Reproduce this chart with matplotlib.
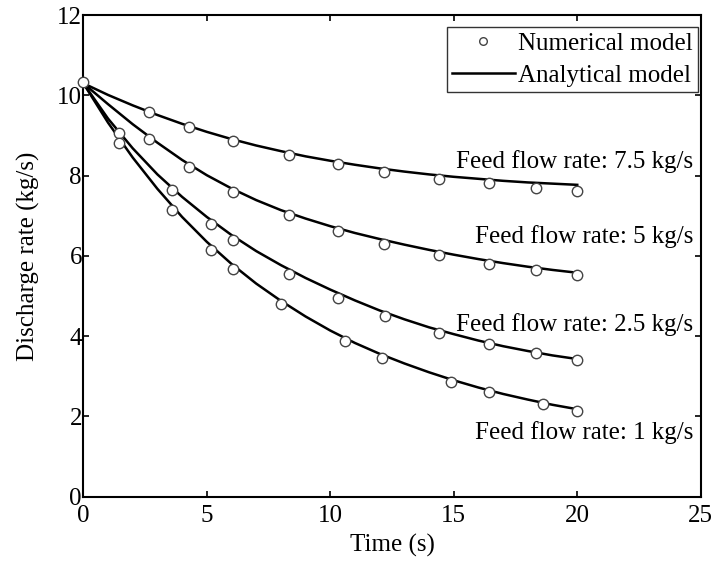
import matplotlib
matplotlib.use("Agg")
import matplotlib.pyplot as plt

plt.rcParams['font.family'] = ['Liberation Serif', 'DejaVu Serif']

# Analytical model curves (read at integer seconds)
t_line = [0, 1, 2, 3, 4, 5, 6, 7, 8, 9, 10, 11, 12, 13, 14, 15, 16, 17, 18, 19, 20]
line_75 = [10.3, 10.01, 9.75, 9.51, 9.29, 9.09, 8.91, 8.75, 8.61, 8.48, 8.37, 8.27, 8.18, 8.10, 8.03, 7.97, 7.92, 7.87, 7.83, 7.80, 7.77]
line_5 = [10.3, 9.78, 9.28, 8.82, 8.39, 8.01, 7.68, 7.39, 7.14, 6.93, 6.74, 6.57, 6.42, 6.28, 6.15, 6.03, 5.92, 5.82, 5.73, 5.65, 5.58]
line_25 = [10.3, 9.42, 8.68, 8.03, 7.47, 6.97, 6.52, 6.12, 5.77, 5.45, 5.16, 4.89, 4.64, 4.42, 4.22, 4.05, 3.89, 3.75, 3.63, 3.52, 3.43]
line_1 = [10.3, 9.32, 8.45, 7.67, 6.97, 6.35, 5.80, 5.31, 4.88, 4.49, 4.14, 3.83, 3.56, 3.32, 3.10, 2.90, 2.72, 2.56, 2.42, 2.29, 2.18]

# Numerical model points
t0 = [0]
q0 = [10.32]
t_pts_75 = [2.67, 4.29, 6.08, 8.31, 10.3, 12.19, 14.4, 16.42, 18.31, 20.0]
pts_75 = [9.58, 9.20, 8.86, 8.51, 8.28, 8.10, 7.92, 7.81, 7.70, 7.62]
t_pts_5 = [2.67, 4.29, 6.08, 8.31, 10.3, 12.19, 14.4, 16.42, 18.31, 20.0]
pts_5 = [8.90, 8.22, 7.60, 7.02, 6.62, 6.30, 6.01, 5.80, 5.65, 5.52]
t_pts_25 = [1.46, 3.58, 5.18, 6.08, 8.31, 10.3, 12.2, 14.4, 16.42, 18.33, 20.0]
pts_25 = [9.05, 7.64, 6.79, 6.40, 5.55, 4.94, 4.50, 4.09, 3.80, 3.57, 3.41]
t_pts_1 = [1.46, 3.58, 5.18, 6.08, 8.0, 10.6, 12.1, 14.9, 16.42, 18.62, 20.0]
pts_1 = [8.82, 7.14, 6.15, 5.67, 4.79, 3.88, 3.46, 2.87, 2.60, 2.30, 2.14]

labels = ["Feed flow rate: 7.5 kg/s", "Feed flow rate: 5 kg/s",
          "Feed flow rate: 2.5 kg/s", "Feed flow rate: 1 kg/s"]
label_y = [8.34, 6.49, 4.28, 1.59]

fig = plt.figure(figsize=(7.14, 5.68), dpi=100)
ax = fig.add_axes([0.1167, 0.1255, 0.8647, 0.848])

mk = dict(marker='o', linestyle='none', markersize=7.5, markerfacecolor='white',
          markeredgecolor='#444444', markeredgewidth=1.0)

for tl, yl in [(t_line, line_75), (t_line, line_5), (t_line, line_25), (t_line, line_1)]:
    ax.plot(tl, yl, color='black', lw=1.8, zorder=2, solid_joinstyle='round')

for tp, yp in [(t_pts_75, pts_75), (t_pts_5, pts_5), (t_pts_25, pts_25), (t_pts_1, pts_1)]:
    ax.plot(tp, yp, zorder=3, **mk)
ax.plot(t0, q0, zorder=3, clip_on=False, **mk)

# legend proxies
h1, = ax.plot([], [], marker='o', linestyle='none', markersize=5.5, markerfacecolor='white',
              markeredgecolor='#444444', markeredgewidth=1.0, label='Numerical model')
h2, = ax.plot([], [], color='black', lw=1.8, label='Analytical model')
leg = ax.legend(handles=[h1, h2], loc='upper right', bbox_to_anchor=(0.9956, 0.975),
                fontsize=18, frameon=True, fancybox=False,
                edgecolor='black', borderpad=0.2, labelspacing=0.38, handlelength=2.5,
                handletextpad=0.15, borderaxespad=0.0)
leg.get_frame().set_linewidth(1.0)

for lab, ly in zip(labels, label_y):
    ax.text(24.7, ly, lab, ha='right', va='center', fontsize=18)

ax.set_xlim(0, 25)
ax.set_ylim(0, 12)
ax.set_xticks([0, 5, 10, 15, 20, 25])
ax.set_yticks([0, 2, 4, 6, 8, 10, 12])
ax.tick_params(direction='in', top=True, right=True, length=4, width=1.2, labelsize=18)
ax.tick_params(axis='y', pad=1)
ax.tick_params(axis='x', pad=6)
for s in ax.spines.values():
    s.set_linewidth(1.5)
ax.set_xlabel('Time (s)', fontsize=18, labelpad=5)
ax.set_ylabel('Discharge rate (kg/s)', fontsize=18, labelpad=12)

fig.savefig('out.png', dpi=100)
